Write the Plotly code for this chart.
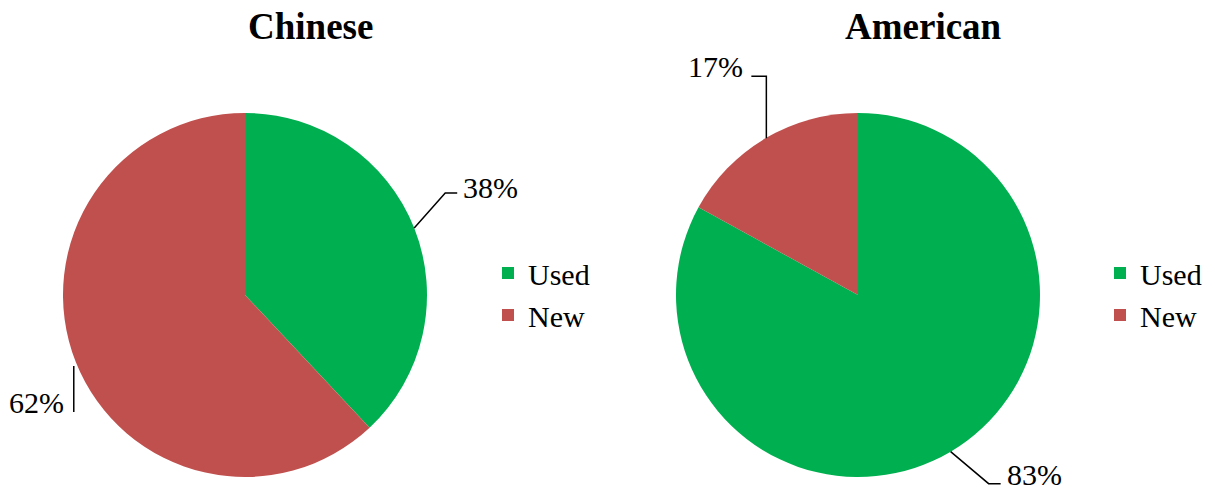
import math
import plotly.graph_objects as go

# ---- data ----
categories = ["Used", "New"]
chinese_values = [38, 62]
american_values = [83, 17]
titles = ["Chinese", "American"]

COLORS = ["#00B050", "#C0504D"]
W, H = 1215, 491
FONT = "Liberation Serif, Times New Roman, serif"

# pie geometry in pixels (layout)
pies = [
    dict(cx=245, cy=295, r=182, values=chinese_values, title=titles[0], legend="legend", suffix=""),
    dict(cx=858, cy=295, r=182, values=american_values, title=titles[1], legend="legend2", suffix=" "),
]

# leader-line style: offsets relative to slice edge midpoint, per pie per slice
leader_style = [
    [  # Chinese: Used, New
        dict(pts=[(0, 0), (31, -35), (43, -35)], tx=47, ty=-41, xa="left"),
        dict(pts=[(-2, 4), (-2, 50)], tx=-10, ty=41, xa="right"),
    ],
    [  # American: Used, New
        dict(pts=[(0, 0), (38, 32), (50, 32)], tx=54, ty=23, xa="left"),
        dict(pts=[(1, 0), (1, -62), (-14, -62)], tx=-20, ty=-72, xa="right"),
    ],
]


def px(x):
    return x / W


def py(y):
    return 1 - y / H


fig = go.Figure()
shapes = []
annotations = []

for i, p in enumerate(pies):
    fig.add_trace(go.Pie(
        # a trailing space keeps each pie's legend entries separate
        labels=[c + p["suffix"] for c in categories],
        values=p["values"],
        sort=False,
        direction="clockwise",
        rotation=0,
        textinfo="none",
        hoverinfo="label+percent",
        marker=dict(colors=COLORS, line=dict(width=0)),
        domain=dict(x=[px(p["cx"] - p["r"]), px(p["cx"] + p["r"])],
                    y=[py(p["cy"] + p["r"]), py(p["cy"] - p["r"])]),
        legend=p["legend"],
        showlegend=True,
    ))
    total = sum(p["values"])
    cum = 0
    for j, v in enumerate(p["values"]):
        mid = (cum + v / 2) / total * 2 * math.pi
        cum += v
        ex = p["cx"] + p["r"] * math.sin(mid)
        ey = p["cy"] - p["r"] * math.cos(mid)
        st = leader_style[i][j]
        path = ""
        for k, (dx, dy) in enumerate(st["pts"]):
            path += ("M" if k == 0 else " L") + f" {px(ex + dx):.5f} {py(ey + dy):.5f}"
        shapes.append(dict(type="path", xref="paper", yref="paper", path=path,
                           line=dict(color="black", width=1.5)))
        pct = round(v / total * 100)
        annotations.append(dict(
            text=f"{pct}%", xref="paper", yref="paper",
            x=px(ex + st["tx"]), y=py(ey + st["ty"]),
            xanchor=st["xa"], yanchor="middle", showarrow=False,
            font=dict(family=FONT, size=30, color="black"),
        ))
    annotations.append(dict(
        text=f"<b>{p['title']}</b>", xref="paper", yref="paper",
        x=px(p["cx"] + 65), y=py(27), xanchor="center", yanchor="middle",
        showarrow=False, font=dict(family=FONT, size=37, color="black"),
    ))

legend_common = dict(
    font=dict(family=FONT, size=30, color="black"),
    bgcolor="rgba(0,0,0,0)",
    xanchor="left", yanchor="middle",
    itemclick=False, itemdoubleclick=False,
)

fig.update_layout(
    width=W, height=H,
    margin=dict(l=0, r=0, t=0, b=0),
    paper_bgcolor="white",
    plot_bgcolor="white",
    font=dict(family=FONT),
    shapes=shapes,
    annotations=annotations,
    legend=dict(x=px(488), y=py(294), **legend_common),
    legend2=dict(x=px(1100), y=py(294), **legend_common),
)

fig.write_html(
    "out.html",
    config={"displayModeBar": False},
    post_script="document.body.style.margin='0';document.body.style.overflow='hidden';",
)
